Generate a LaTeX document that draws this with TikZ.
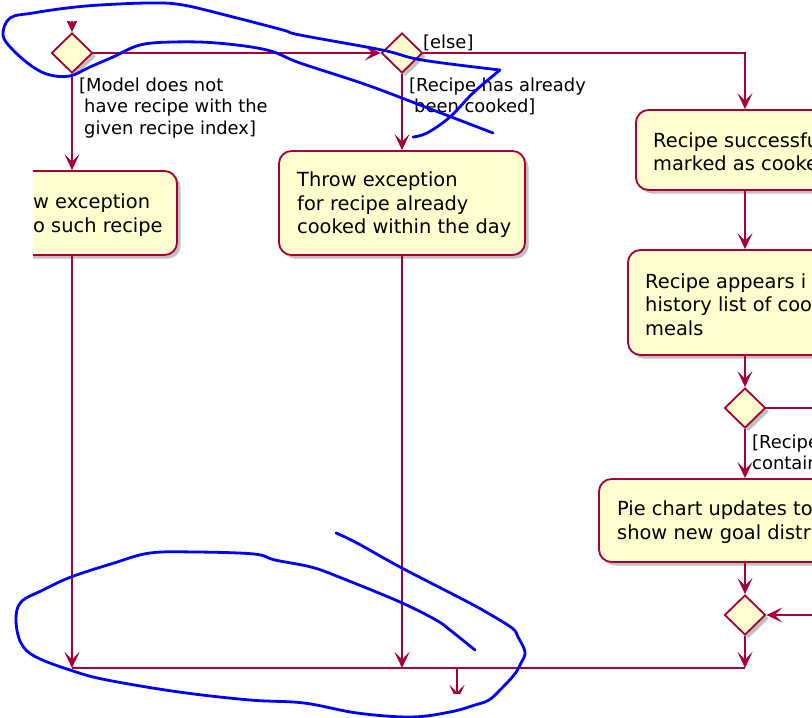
\documentclass[tikz,border=0pt]{standalone}
\usepackage{fontspec}
\setmainfont{DejaVu Sans}
\usetikzlibrary{shapes.geometric,arrows.meta,shadows}
\definecolor{pborder}{HTML}{A80036}
\definecolor{pfill}{HTML}{FEFECE}
\definecolor{scribble}{HTML}{0000FF}
\tikzset{
  pshadow/.style={drop shadow={shadow xshift=3.5pt, shadow yshift=-3.5pt, opacity=0.35, fill=black!70}},
  act/.style={rectangle, draw=pborder, fill=pfill, line width=1.8pt, rounded corners=12.5pt, inner sep=0pt, pshadow},
  dec/.style={diamond, aspect=1, draw=pborder, fill=pfill, line width=1.8pt, minimum width=41pt, minimum height=40pt, inner sep=0pt, pshadow},
  flow/.style={draw=pborder, line width=1.8pt, -{Stealth[length=16pt,width=15pt,inset=7.5pt]}},
  plain/.style={draw=pborder, line width=1.8pt},
  btxt/.style={anchor=west, align=left, inner sep=0pt, font=\fontsize{19.4}{23.5}\selectfont, text=black},
  ltxt/.style={anchor=west, align=left, inner sep=0pt, font=\fontsize{17.9}{21.3}\selectfont, text=black},
  pen/.style={draw=scribble, line width=2.8pt, line cap=round, line join=round},
}
\begin{document}
\begin{tikzpicture}[x=1pt,y=-1pt]
\useasboundingbox (0,0) rectangle (812,718);
\fill[white] (0,0) rectangle (812,718);
\begin{scope}
  \clip (33,21) rectangle (812,693);
  % decisions
  \node[dec] (d1) at (72,53) {};
  \node[dec] (d2) at (402,53) {};
  \node[dec] (d3) at (745,408) {};
  \node[dec] (d4) at (745,615) {};
  % activities
  \node[act, minimum width=187pt, minimum height=84pt] (b1) at (83.5,213) {};
  \node[act, minimum width=246pt, minimum height=104pt] (b2) at (402,203) {};
  \node[act, minimum width=244pt, minimum height=80pt] (b3) at (758,150) {};
  \node[act, minimum width=252pt, minimum height=105pt] (b4) at (754,302.5) {};
  \node[act, minimum width=301pt, minimum height=83pt] (b5) at (749.5,520.5) {};
  % activity texts
  \node[btxt] (t1) at (33,215) {w exception\\o such recipe};
  \node[btxt] (t2) at (297,205) {Throw exception\\for recipe already\\cooked within the day};
  \node[btxt] (t3) at (653,152) {Recipe successfu\\marked as cooke};
  \node[btxt] (t4) at (645,304.5) {Recipe appears i\\history list of cook\\meals};
  \node[btxt] (t5) at (617,522) {Pie chart updates to\\show new goal distri};
  % guard labels
  \node[ltxt] (l1) at (79,108) {[Model does not\\\hspace*{5pt}have recipe with the\\\hspace*{5pt}given recipe index]};
  \node[ltxt] (l2) at (423,43) {[else]};
  \node[ltxt] (l3) at (409,96.5) {[Recipe has already\\\hspace*{5pt}been cooked]};
  \node[ltxt] (l4) at (752,452) {[Recipe\\contain};
  % free ends
  \coordinate (in0) at (72,0);
  \coordinate (cr1) at (830,408);
  \coordinate (cr2) at (830,615);
  \coordinate (m0) at (72,668);
  \coordinate (m1) at (402,668);
  \coordinate (m2) at (745,668);
  \coordinate (out) at (457,668);
  \coordinate (outEnd) at (457,701);
  % connectors
  \draw[flow] (in0) -- (d1.north);
  \draw[flow] (d1.east) -- (d2.west);
  \draw[flow] (d2.east) -| (d3.north |- b3.north);
  \draw[flow] (d1.south) -- (d1.south |- b1.north);
  \draw[flow] (d2.south) -- (b2.north);
  \draw[flow] (d1.south |- b1.south) -- (m0);
  \draw[flow] (b2.south) -- (m1);
  \draw[flow] (d3.north |- b3.south) -- (d3.north |- b4.north);
  \draw[flow] (d3.north |- b4.south) -- (d3.north);
  \draw[plain] (d3.east) -- (cr1);
  \draw[flow] (d3.south) -- (d3.south |- b5.north);
  \draw[flow] (d3.south |- b5.south) -- (d4.north);
  \draw[flow] (cr2) -- (d4.east);
  \draw[flow] (d4.south) -- (m2);
  \draw[plain] (m0) -- (m2);
  \draw[flow] (out) -- (outEnd);
\end{scope}
% hand-drawn blue annotations
\draw[pen] plot[smooth, tension=0.6] coordinates {(493,133) (433,110) (367,85) (300,63) (267,50) (217,43) (173,42) (140,45) (113,57) (90,67) (70,76) (50,75) (33,67) (13,50) (3,35) (10,18) (33,13) (67,8) (100,5) (150,3) (183,5) (233,17) (283,30) (300,35) (382,50) (422,60) (500,70)};
\draw[pen] plot[smooth, tension=0.6] coordinates {(500,70) (473,93) (450,117) (427,133) (413,137)};
\draw[pen] plot[smooth, tension=0.6] coordinates {(336,533) (357,543) (400,567) (464,600) (486,612) (512,628) (518,637) (525,652) (521,663) (514,675) (500,690) (489,700) (475,705) (450,712) (411,717) (357,713) (304,703) (250,700) (179,692) (107,680) (73,671) (36,657) (21,643) (16,620) (21,602) (43,590) (71,577) (114,563) (150,553) (196,552) (254,554) (275,560) (311,567) (339,577) (400,602) (436,620) (450,630) (475,650)};
\end{tikzpicture}
\end{document}
